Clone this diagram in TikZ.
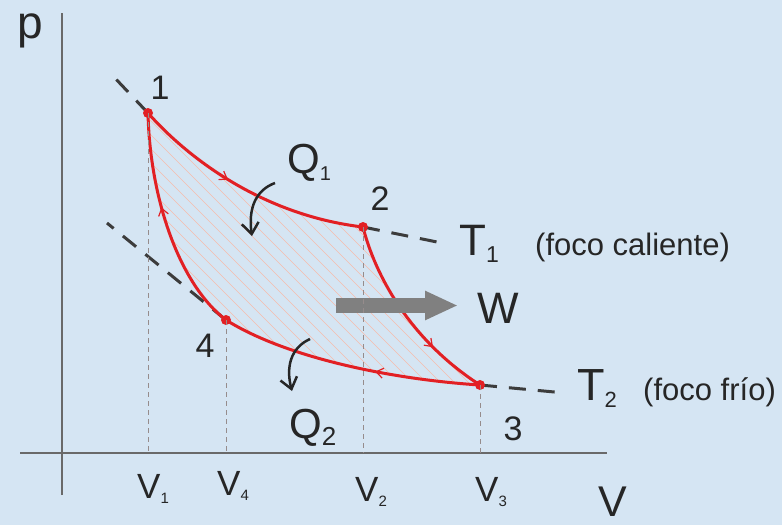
\documentclass[tikz,border=0pt]{standalone}
\usepackage{fontspec}
\setmainfont{Liberation Sans}
\definecolor{bgblue}{RGB}{213,229,243}
\definecolor{cyclered}{RGB}{226,32,36}
\definecolor{hatchred}{RGB}{246,188,172}
\definecolor{axisgray}{RGB}{105,105,105}
\definecolor{guidegray}{RGB}{150,140,140}
\definecolor{isogray}{RGB}{60,60,60}
\definecolor{workgray}{RGB}{128,128,128}
\definecolor{txtgray}{RGB}{38,38,38}
\usetikzlibrary{arrows.meta,decorations.markings,calc}
\newcommand{\pxfont}[1]{\fontsize{#1}{#1}\selectfont}
\newcommand{\lowidx}[2]{\raisebox{-0.17em}{\pxfont{#1}#2}}

\begin{document}
\begin{tikzpicture}[x=1pt,y=-1pt,
  axis/.style={axisgray,line width=2pt},
  guide/.style={guidegray,line width=0.8pt,dash pattern=on 5pt off 4pt},
  iso/.style={isogray,line width=3pt,dash pattern=on 17pt off 12pt},
  redline/.style={cyclered,line width=3pt},
  hatch/.style={hatchred,line width=0.7pt},
  midarrow/.style={postaction={decorate,decoration={markings,
    mark=at position #1 with {\arrow{Straight Barb[length=7pt,width=10pt,line width=1.2pt]}}}}},
  qarrow/.style={txtgray,line width=2.5pt,-{Straight Barb[length=11pt,width=17pt]}},
  warrow/.style={workgray,line width=15pt,-{Triangle[length=33pt,width=27pt]}},
  lbl/.style={text=txtgray,inner sep=0pt}]

  %% background and frame
  \fill[bgblue] (0,0) rectangle (782,525);
  \useasboundingbox (0,0) rectangle (782,525);

  %% corner points of the cycle
  \coordinate (p1) at (148,113);
  \coordinate (p2) at (363,227);
  \coordinate (p3) at (480,385);
  \coordinate (p4) at (226,320);
  \coordinate (o) at (63,453);

  %% hatched area (work)
  \begin{scope}
    \clip (p1) .. controls (185,155) and (260,215) .. (p2)
          .. controls (375,275) and (410,340) .. (p3)
          .. controls (400,380) and (290,360) .. (p4)
          .. controls (180,285) and (150,200) .. (p1) -- cycle;
    \foreach \k in {-150,-136,...,480}
      \draw[hatch] (\k,100) -- ++(300,300);
  \end{scope}

  %% axes
  \coordinate (ytop) at (62,13);
  \coordinate (ybot) at (62,495);
  \coordinate (xleft) at (20,453);
  \coordinate (xright) at (607,453);
  \draw[axis] (ybot) -- (ytop);
  \draw[axis] (xleft) -- (xright);

  %% isotherm extensions
  \coordinate (t1a) at (113,76);
  \coordinate (t1b) at (442,243);
  \coordinate (t2a) at (107,223);
  \coordinate (t2b) at (565,393);
  \draw[iso] (p1) -- (t1a);
  \draw[iso] (p2) -- (t1b);
  \draw[iso] (p4) -- (t2a);
  \draw[iso] (p3) -- (t2b);

  %% the cycle 1-2-3-4
  \draw[redline,midarrow=0.42] (p1) .. controls (185,155) and (260,215) .. (p2);
  \draw[redline,midarrow=0.70] (p2) .. controls (375,275) and (410,340) .. (p3);
  \draw[redline,midarrow=0.40] (p3) .. controls (400,380) and (290,360) .. (p4);
  \draw[redline,midarrow=0.58] (p4) .. controls (180,285) and (150,200) .. (p1);
  \foreach \p in {p1,p2,p3,p4}
    \fill[cyclered] (\p) circle[radius=5pt];

  %% work arrow
  \coordinate (wtail) at (336,305.5);
  \coordinate (whead) at (458,305.5);
  \draw[warrow] (wtail) -- (whead);

  %% volume guides
  \foreach \p in {p1,p2,p3,p4}
    \draw[guide] (\p) -- (\p |- o);

  %% heat arrows
  \coordinate (q1s) at (275,183);
  \coordinate (q1e) at (252,236);
  \coordinate (q2s) at (310,339);
  \coordinate (q2e) at (292,391);
  \draw[qarrow] (q1s) .. controls (256,190) and (248,208) .. (q1e);
  \draw[qarrow] (q2s) .. controls (290,348) and (286,368) .. (q2e);

  %% labels
  \node[lbl,anchor=base west,font=\pxfont{46}] (plabel) at (17,38) {p};
  \node[lbl,anchor=base west,font=\pxfont{43}] (vlabel) at (598,516) {V};
  \node[lbl,anchor=base,font=\pxfont{34}] (n1) at (160,99) {1};
  \node[lbl,anchor=base,font=\pxfont{34}] (n2) at (380,210) {2};
  \node[lbl,anchor=base,font=\pxfont{34}] (n3) at (513,440) {3};
  \node[lbl,anchor=base,font=\pxfont{34}] (n4) at (205,357) {4};
  \node[lbl,anchor=base west,font=\pxfont{42}] (q1) at (287,173) {Q\lowidx{20}{1}};
  \node[lbl,anchor=base west,font=\pxfont{42}] (q2) at (289,438) {Q\lowidx{26}{2}};
  \node[lbl,anchor=base west,font=\pxfont{44}] (t1) at (459,255) {T\lowidx{23}{1}};
  \node[lbl,anchor=base west,font=\pxfont{31}] (hot) at (535,255) {(foco caliente)};
  \node[lbl,anchor=base west,font=\pxfont{44}] (w) at (477,323) {W};
  \node[lbl,anchor=base west,font=\pxfont{45}] (t2) at (577,400) {T\lowidx{22}{2}};
  \node[lbl,anchor=base west,font=\pxfont{31}] (cold) at (643,400) {(foco frío)};
  \node[lbl,anchor=base west,font=\pxfont{35}] (v1) at (137,498) {V\lowidx{15}{1}};
  \node[lbl,anchor=base west,font=\pxfont{35}] (v4) at (217,495) {V\lowidx{15}{4}};
  \node[lbl,anchor=base west,font=\pxfont{35}] (v2) at (355,501) {V\lowidx{15}{2}};
  \node[lbl,anchor=base west,font=\pxfont{35}] (v3) at (475,501) {V\lowidx{15}{3}};
\end{tikzpicture}
\end{document}
